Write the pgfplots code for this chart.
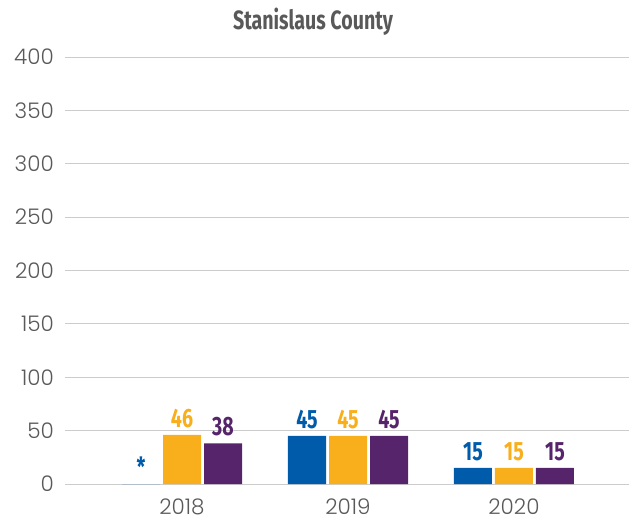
\documentclass[border=0pt]{standalone}
\usepackage{pgfplots}
\pgfplotsset{compat=1.18}
\usepackage{fontspec}
\setmainfont{Poppins}[UprightFont=* Light]
\newfontfamily\condfont{Fira Sans}[FakeStretch=0.74]

\definecolor{cblue}{HTML}{005BAA}
\definecolor{corange}{HTML}{F9AE1B}
\definecolor{cpurple}{HTML}{56246A}
\definecolor{cgrid}{HTML}{CCCCCC}
\definecolor{ctext}{HTML}{595959}

\begin{document}
\begin{tikzpicture}
\begin{axis}[
  scale only axis, width=564pt, height=427pt,
  ybar=3pt, bar width=38pt,
  xmin=-0.705, xmax=2.693, ymin=0, ymax=400,
  ytick={0,50,...,400},
  xtick={0,1,2}, xticklabels={2018,2019,2020},
  ymajorgrids, grid style={cgrid, line width=1pt},
  axis line style={draw=none}, major tick length=0pt,
  tick label style={font=\fontsize{21.5}{21.5}\selectfont, text=ctext},
  yticklabel style={anchor=east, inner sep=0pt, xshift=-11pt},
  xticklabel style={anchor=north, inner sep=0pt, yshift=-15pt},
  /pgf/number format/assume math mode=true,
  nodes near coords, point meta=explicit symbolic,
  every node near coord/.append style={font=\condfont\bfseries\fontsize{26.5}{26.5}\selectfont, inner sep=2pt, yshift=5pt},
  clip=false,
]
\addplot[fill=cblue, draw=none, every node near coord/.append style={text=cblue}]
  coordinates {(0,0) [*] (1,45) [45] (2,15) [15]};
\addplot[fill=corange, draw=none, every node near coord/.append style={text=corange}]
  coordinates {(0,46) [46] (1,45) [45] (2,15) [15]};
\addplot[fill=cpurple, draw=none, every node near coord/.append style={text=cpurple}]
  coordinates {(0,38) [38] (1,45) [45] (2,15) [15]};
\end{axis}
\node[anchor=base, text=ctext, font=\condfont\bfseries\fontsize{26.5}{26.5}\selectfont] at (248pt,454pt) {Stanislaus County};
\pgfresetboundingbox
\path (-65pt,-39pt) rectangle (564pt,484pt);
\end{tikzpicture}
\end{document}
